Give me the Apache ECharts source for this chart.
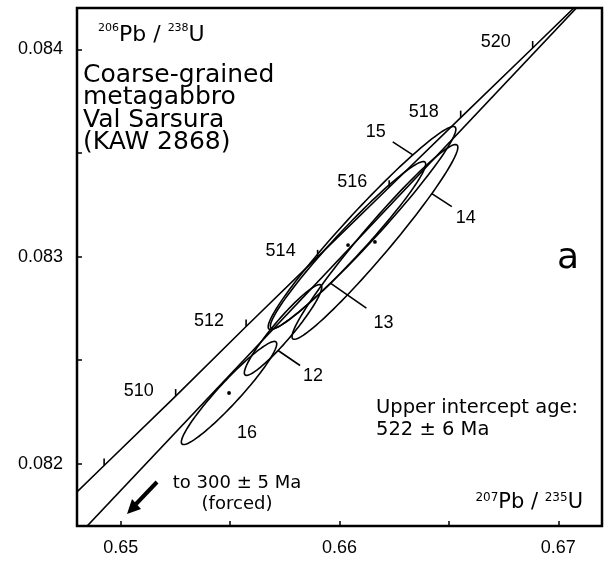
<!DOCTYPE html>
<html>
<head>
<meta charset="utf-8">
<script src="https://cdn.jsdelivr.net/npm/echarts/dist/echarts.min.js"></script>
<style>
  html, body { margin: 0; padding: 0; background: #fff; }
  #chart { width: 606px; height: 561px; }
</style>
</head>
<body>
<div id="chart"></div>
<script>
// concordia, read at every 2 Ma (age, 207Pb/235U, 206Pb/238U)
const concordiaAge = [506, 508, 510, 512, 514, 516, 518, 520, 522];
const concordiaX = [0.64598, 0.64924, 0.65251, 0.65573, 0.65900, 0.66227, 0.66554, 0.66883, 0.67212];
const concordiaY = [0.081656, 0.081992, 0.082327, 0.082663, 0.082999, 0.083335, 0.083671, 0.084007, 0.084344];

// discordia (300 Ma forced -> 522 Ma), where it meets the frame
const discordiaX = [0.6480, 0.6720];
const discordiaY = [0.081648, 0.084331];

// fractions: centre, error half-widths, error correlation
const spotIds = ['12', '13', '14', '15', '16'];
const spotX = [0.65742, 0.66039, 0.66162, 0.66103, 0.65495];
const spotY = [0.082646, 0.083056, 0.083071, 0.083138, 0.082342];
const errX = [0.00177, 0.00355, 0.00379, 0.00429, 0.00218];
const errY = [0.000219, 0.000403, 0.000470, 0.000490, 0.000249];
const rhoXY = [0.943, 0.970, 0.972, 0.973, 0.951];

// labelled ticks
const xTickLabels = [0.65, 0.66, 0.67];
const yTickLabels = [0.082, 0.083, 0.084];

// where each fraction's number sits (angle on the outline, leader and text offset in px)
const spotLabelLayout = {
    '12': { t: -1.70, leader: [22, 15], text: [13, 11], dot: false },
    '13': { t: -1.80, leader: [36, 25], text: [17, 15], dot: true },
    '14': { t: -0.815, leader: [20, 13], text: [14, 11], dot: true },
    '15': { t: 1.0, leader: [-20, -13], text: [-17, -10], dot: false },
    '16': { t: -1.5708, leader: [0, 0], text: [18, 24], dot: true }
};

const numFont = '18px "Liberation Sans", Arial, sans-serif';
const txtFamily = '"DejaVu Sans", sans-serif';
const ink = '#000';
const lw = 1.6;

const chart = echarts.init(document.getElementById('chart'), null, { renderer: 'canvas' });

const onEllipse = (cx, cy, sx, sy, r, t) => {
    const q = Math.sqrt(1 - r * r);
    return [cx + sx * Math.cos(t), cy + sy * (r * Math.cos(t) + q * Math.sin(t))];
};

const hasLabel = (list, v) => list.some(t => Math.abs(t - v) < 1e-9);

const option = {
    animation: false,
    backgroundColor: '#fff',
    grid: {
        left: 77, right: 4, top: 8, bottom: 35,
        show: true, borderColor: ink, borderWidth: 2.5,
        containLabel: false, outerBoundsMode: 'none'
    },
    xAxis: {
        type: 'value', min: 0.648, max: 0.672, splitNumber: 5,
        axisLine: { show: false },
        splitLine: { show: false },
        axisTick: { inside: true, length: 5, lineStyle: { color: ink, width: 1.5 } },
        axisLabel: {
            color: ink, fontFamily: '"Liberation Sans", Arial, sans-serif', fontSize: 18, margin: 13,
            showMinLabel: false, showMaxLabel: false,
            formatter: v => hasLabel(xTickLabels, v) ? v.toFixed(2) : ''
        }
    },
    yAxis: {
        type: 'value', min: 0.0817, max: 0.0842, splitNumber: 5,
        axisLine: { show: false },
        splitLine: { show: false },
        axisTick: { inside: true, length: 5, lineStyle: { color: ink, width: 1.5 } },
        axisLabel: {
            color: ink, fontFamily: '"Liberation Sans", Arial, sans-serif', fontSize: 18, margin: 14,
            showMinLabel: false, showMaxLabel: false,
            formatter: v => hasLabel(yTickLabels, v) ? v.toFixed(3) : ''
        }
    },
    series: [
        {
            name: 'concordia', type: 'line', clip: true, silent: true,
            showSymbol: false, symbol: 'none',
            lineStyle: { color: ink, width: lw },
            data: concordiaX.map((x, i) => [x, concordiaY[i]])
        },
        {
            name: 'discordia', type: 'line', clip: true, silent: true,
            showSymbol: false, symbol: 'none',
            lineStyle: { color: ink, width: lw },
            data: discordiaX.map((x, i) => [x, discordiaY[i]])
        },
        {
            // age ticks and labels on the concordia
            name: 'ages', type: 'custom', silent: true,
            data: concordiaAge.map((a, i) => [concordiaX[i], concordiaY[i], a]),
            renderItem: (params, api) => {
                const p = api.coord([api.value(0), api.value(1)]);
                const cs = params.coordSys;
                if (p[0] < cs.x || p[0] > cs.x + cs.width || p[1] < cs.y || p[1] > cs.y + cs.height) return null;
                const children = [{
                    type: 'line',
                    shape: { x1: p[0], y1: p[1], x2: p[0], y2: p[1] - 7 },
                    style: { stroke: ink, lineWidth: lw }
                }];
                const lx = p[0] - 37;
                if (lx - 16 > cs.x) {
                    children.push({
                        type: 'text', x: lx, y: p[1] - 5.5,
                        style: { text: String(api.value(2)), font: numFont, fill: ink, align: 'center', verticalAlign: 'middle' }
                    });
                }
                return { type: 'group', children };
            }
        },
        {
            // error ellipses
            name: 'spots', type: 'custom', silent: true,
            data: spotIds.map((id, i) => [spotX[i], spotY[i], errX[i], errY[i], rhoXY[i]]),
            renderItem: (params, api) => {
                const i = params.dataIndex;
                const cx = api.value(0), cy = api.value(1), sx = api.value(2), sy = api.value(3), r = api.value(4);
                const pts = [];
                for (let k = 0; k < 120; k++) {
                    pts.push(api.coord(onEllipse(cx, cy, sx, sy, r, k / 120 * 2 * Math.PI)));
                }
                const lay = spotLabelLayout[spotIds[i]];
                const edge = api.coord(onEllipse(cx, cy, sx, sy, r, lay.t));
                const end = [edge[0] + lay.leader[0], edge[1] + lay.leader[1]];
                const c = api.coord([cx, cy]);
                const children = [{
                    type: 'polygon', shape: { points: pts },
                    style: { fill: 'none', stroke: ink, lineWidth: lw }
                }];
                if (lay.leader[0] || lay.leader[1]) {
                    children.push({
                        type: 'line', shape: { x1: edge[0], y1: edge[1], x2: end[0], y2: end[1] },
                        style: { stroke: ink, lineWidth: lw }
                    });
                }
                children.push({
                    type: 'text', x: end[0] + lay.text[0], y: end[1] + lay.text[1],
                    style: { text: spotIds[i], font: numFont, fill: ink, align: 'center', verticalAlign: 'middle' }
                });
                if (lay.dot) {
                    children.push({ type: 'circle', shape: { cx: c[0], cy: c[1], r: 1.9 }, style: { fill: ink } });
                }
                return { type: 'group', children };
            }
        }
    ],
    graphic: [
        {
            type: 'text', x: 98, y: 35,
            style: {
                text: '{s|206}{m|Pb / }{s|238}{m|U}',
                align: 'left', verticalAlign: 'middle', fill: ink,
                rich: {
                    s: { fontFamily: txtFamily, fontSize: 11, lineHeight: 12, verticalAlign: 'top', fill: ink },
                    m: { fontFamily: txtFamily, fontSize: 22, lineHeight: 24, fill: ink }
                }
            }
        },
        {
            type: 'text', x: 83, y: 64,
            style: {
                text: 'Coarse-grained\nmetagabbro\nVal Sarsura\n(KAW 2868)',
                font: '25px ' + txtFamily, lineHeight: 22.5, fill: ink, align: 'left', verticalAlign: 'top'
            }
        },
        {
            type: 'text', x: 568, y: 259,
            style: { text: 'a', font: '36px ' + txtFamily, fill: ink, align: 'center', verticalAlign: 'middle' }
        },
        {
            type: 'text', x: 376, y: 397,
            style: {
                text: 'Upper intercept age:\n522 ± 6 Ma',
                font: '19.5px ' + txtFamily, lineHeight: 22, fill: ink, align: 'left', verticalAlign: 'top'
            }
        },
        {
            type: 'text', x: 237, y: 472.5,
            style: {
                text: 'to 300 ± 5 Ma\n(forced)',
                font: '18px ' + txtFamily, lineHeight: 21, fill: ink, align: 'center', verticalAlign: 'top'
            }
        },
        {
            type: 'text', x: 583, y: 503,
            style: {
                text: '{s|207}{m|Pb / }{s|235}{m|U}',
                align: 'right', verticalAlign: 'middle', fill: ink,
                rich: {
                    s: { fontFamily: txtFamily, fontSize: 12, lineHeight: 12, verticalAlign: 'top', fill: ink },
                    m: { fontFamily: txtFamily, fontSize: 21, lineHeight: 23, fill: ink }
                }
            }
        },
        {
            // arrow towards the lower intercept
            type: 'line',
            shape: { x1: 157, y1: 482, x2: 136, y2: 504 },
            style: { stroke: ink, lineWidth: 4 }
        },
        {
            type: 'polygon',
            shape: { points: [[127, 514], [141, 509], [132, 499]] },
            style: { fill: ink }
        }
    ]
};

chart.setOption(option);
</script>
</body>
</html>
